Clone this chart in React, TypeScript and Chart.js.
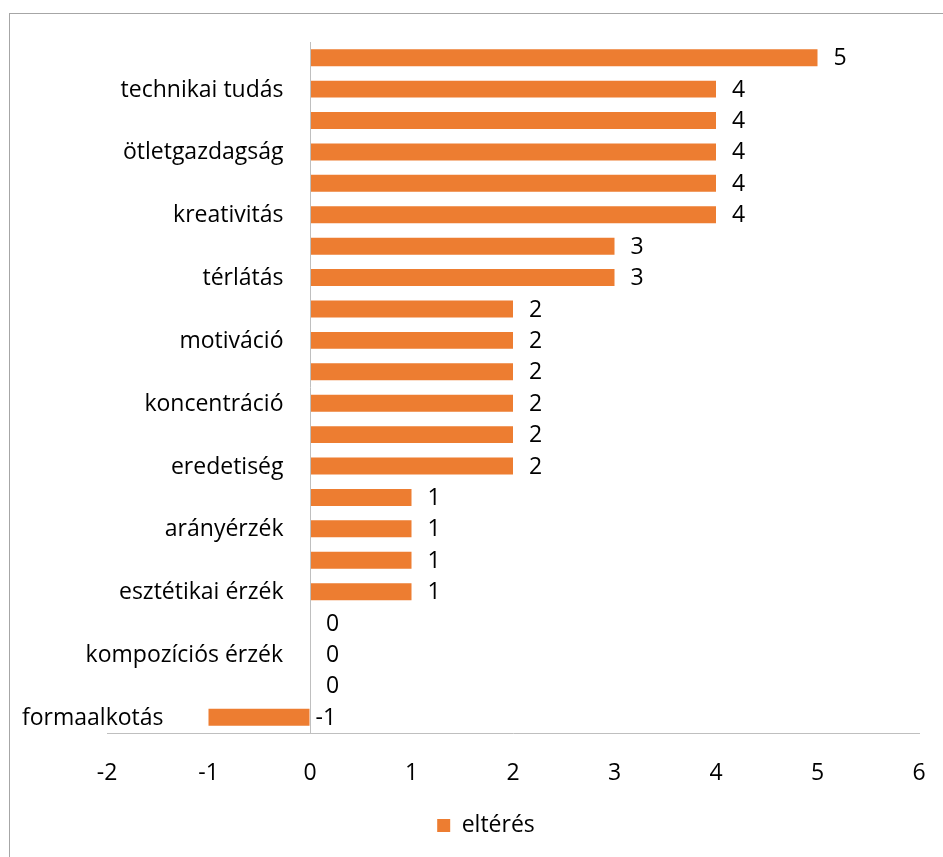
import React, { useEffect, useRef } from "react";
import { Chart, registerables } from "chart.js";

Chart.register(...registerables);

// Categories (only every other one carries a visible name)
const categories: string[] = [
  "", "technikai tudás", "", "ötletgazdagság", "", "kreativitás", "", "térlátás",
  "", "motiváció", "", "koncentráció", "", "eredetiség", "", "arányérzék",
  "", "esztétikai érzék", "", "kompozíciós érzék", "", "formaalkotás",
];

// Difference values per category
const elteres: number[] = [5, 4, 4, 4, 4, 4, 3, 3, 2, 2, 2, 2, 2, 2, 1, 1, 1, 1, 0, 0, 0, -1];

const seriesName = "eltérés";
const xMin = -2;
const xMax = 6;

const BAR_COLOR = "#ED7D31";
const TEXT_COLOR = "#000000";
const AXIS_COLOR = "#bfbfbf";
const FONT_FAMILY = "'Open Sans', sans-serif";
const FONT_SIZE = 23;

// Outer frame around the whole chart area
const framePlugin = {
  id: "frame",
  beforeDraw(chart: any) {
    const { ctx } = chart;
    ctx.save();
    ctx.strokeStyle = "#a6a6a6";
    ctx.lineWidth = 1;
    ctx.strokeRect(9.5, 13.5, chart.width + 20, chart.height + 20);
    ctx.restore();
  },
};

// Vertical axis line at x = 0
const zeroAxisPlugin = {
  id: "zeroAxis",
  afterDatasetsDraw(chart: any) {
    const { ctx, chartArea } = chart;
    const x0 = Math.round(chart.scales.x.getPixelForValue(0)) + 0.5;
    ctx.save();
    ctx.strokeStyle = AXIS_COLOR;
    ctx.lineWidth = 1;
    ctx.beginPath();
    ctx.moveTo(x0, chartArea.top);
    ctx.lineTo(x0, chartArea.bottom);
    ctx.stroke();
    ctx.restore();
  },
};

// Category names left of the axis and value labels at the bar ends
const labelPlugin = {
  id: "barLabels",
  afterDatasetsDraw(chart: any) {
    const { ctx } = chart;
    const meta = chart.getDatasetMeta(0);
    const values = chart.data.datasets[0].data as number[];
    const names = chart.data.labels as string[];
    ctx.save();
    ctx.font = `${FONT_SIZE}px ${FONT_FAMILY}`;
    ctx.fillStyle = TEXT_COLOR;
    ctx.textBaseline = "middle";
    meta.data.forEach((bar: any, i: number) => {
      const v = values[i];
      const lo = Math.min(bar.x, bar.base);
      const hi = Math.max(bar.x, bar.base);
      // value label
      ctx.textAlign = "left";
      ctx.fillText(String(v), hi + (v < 0 ? 6 : 16), bar.y + 1);
      // category name
      const name = names[i];
      if (name) {
        ctx.textAlign = "right";
        ctx.fillText(name, lo - (v < 0 ? 45 : 27), bar.y + 1);
      }
    });
    ctx.restore();
  },
};

export default function App() {
  const canvasRef = useRef<HTMLCanvasElement | null>(null);

  useEffect(() => {
    if (!canvasRef.current) return;
    const chart = new Chart(canvasRef.current, {
      type: "bar",
      data: {
        labels: categories,
        datasets: [
          {
            label: seriesName,
            data: elteres,
            backgroundColor: BAR_COLOR,
            borderWidth: 0,
            categoryPercentage: 1,
            barPercentage: 0.54,
          },
        ],
      },
      options: {
        indexAxis: "y",
        animation: false,
        responsive: true,
        maintainAspectRatio: false,
        layout: { padding: { left: 53, right: 24, top: 42, bottom: 10 } },
        scales: {
          x: {
            type: "linear",
            min: xMin,
            max: xMax,
            ticks: {
              stepSize: 1,
              padding: 0,
              color: TEXT_COLOR,
              font: { family: FONT_FAMILY, size: FONT_SIZE },
            },
            // invisible tick marks provide the gap between axis line and labels
            grid: {
              display: true,
              drawOnChartArea: false,
              drawTicks: true,
              tickLength: 27,
              color: "rgba(0,0,0,0)",
            },
            border: { display: true, color: AXIS_COLOR, width: 1 },
            afterFit: (scale: any) => {
              scale.height = 71;
            },
          },
          y: {
            type: "category",
            position: "left",
            ticks: { display: false },
            grid: { display: false, drawTicks: false },
            border: { display: false },
            afterFit: (scale: any) => {
              scale.width = 54;
            },
          },
        },
        plugins: {
          legend: {
            position: "bottom",
            labels: {
              boxWidth: 13,
              boxHeight: 13,
              padding: 10,
              color: TEXT_COLOR,
              font: { family: FONT_FAMILY, size: FONT_SIZE },
            },
          },
          tooltip: { enabled: false },
        },
      },
      plugins: [framePlugin, zeroAxisPlugin, labelPlugin],
    });
    return () => chart.destroy();
  }, []);

  return (
    <div style={{ position: "fixed", left: 0, top: 0, width: 943, height: 857 }}>
      <canvas ref={canvasRef} />
    </div>
  );
}
